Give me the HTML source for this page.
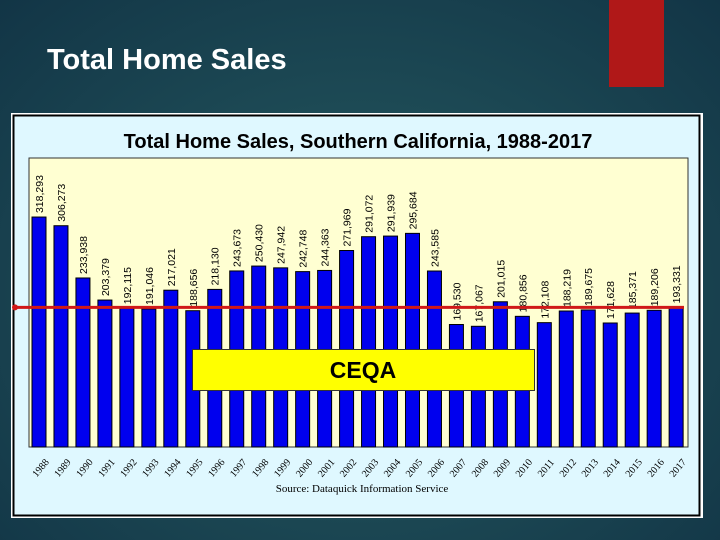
<!DOCTYPE html>
<html><head><meta charset="utf-8"><style>
body{margin:0;width:720px;height:540px;overflow:hidden;background:radial-gradient(ellipse at 50% 55%,#2e6466 0%,#1d4a55 45%,#123546 100%);font-family:"Liberation Sans",sans-serif;}
</style></head><body>
<div style="position:relative;width:720px;height:540px;">
<div style="position:absolute;left:609px;top:0;width:55px;height:87px;background:#b01818;"></div>
<div style="position:absolute;left:47px;top:44px;color:#fff;font-size:29px;font-weight:bold;">Total Home Sales</div>
<svg id="chart" width="720" height="540" style="position:absolute;left:0;top:0"></svg>
</div>
<script>
const years=["1988","1989","1990","1991","1992","1993","1994","1995","1996","1997","1998","1999","2000","2001","2002","2003","2004","2005","2006","2007","2008","2009","2010","2011","2012","2013","2014","2015","2016","2017"];
const sales=[318293,306273,233938,203379,192115,191046,217021,188656,218130,243673,250430,247942,242748,244363,271969,291072,291939,295684,243585,169530,167067,201015,180856,172108,188219,189675,171628,185371,189206,193331];
const refValue=[193331];
const svg=document.getElementById('chart');
const NS='http://www.w3.org/2000/svg';
function mk(t,a,txt){const e=document.createElementNS(NS,t);for(const k in a)e.setAttribute(k,a[k]);if(txt!==undefined)e.textContent=txt;svg.appendChild(e);return e;}
const plotL=29,plotR=688,plotT=158,plotB=447,yMax=400000;
const y=v=>plotB-(v/yMax)*(plotB-plotT);
const pitch=21.97,bw=14;
const xc=i=>39+i*pitch;
let e;
e=mk('rect',{x:11,y:113,width:692,height:405,fill:'#fff'});

e=mk('rect',{x:13.5,y:115.5,width:686,height:400,fill:'#dff8ff',stroke:'#000','stroke-width':2});

e=mk('text',{x:358,y:148,'text-anchor':'middle','font-size':20,'font-weight':'bold',fill:'#000','font-family':'Liberation Sans'},'Total Home Sales, Southern California, 1988-2017');

e=mk('rect',{x:plotL,y:plotT,width:plotR-plotL,height:plotB-plotT,fill:'#ffffd2',stroke:'#333','stroke-width':1});

sales.forEach((v,i)=>{
 const b=mk('rect',{x:xc(i)-bw/2,y:y(v),width:bw,height:plotB-y(v),fill:'#0000ee',stroke:'#000','stroke-width':1});
 
 const tx=xc(i)+4,ty=y(v)-4;
 const l=mk('text',{x:tx,y:ty,transform:`rotate(-90 ${tx} ${ty})`,'font-size':10.5,fill:'#000'},v.toLocaleString('en-US'));
 
 const ax=xc(i)+4,ay=470;
 const t=mk('text',{x:ax,y:ay,transform:`rotate(-50 ${ax} ${ay})`,'text-anchor':'middle','font-size':10,'font-family':'Liberation Serif',fill:'#000'},years[i]);
 
});
const ry=y(refValue[0]);
e=mk('line',{x1:15,y1:ry,x2:684,y2:ry,stroke:'#d01818','stroke-width':3});

e=mk('circle',{cx:15,cy:ry,r:3,fill:'#d01818'});

e=mk('rect',{x:192.5,y:349.5,width:342,height:41,fill:'#ffff00',stroke:'#333','stroke-width':1});

e=mk('text',{x:363,y:378,'text-anchor':'middle','font-size':23,'font-weight':'bold',fill:'#000'},'CEQA');

e=mk('text',{x:362,y:492,'text-anchor':'middle','font-size':11,'font-family':'Liberation Serif',fill:'#000'},'Source:  Dataquick Information Service');

</script>
</body></html>
